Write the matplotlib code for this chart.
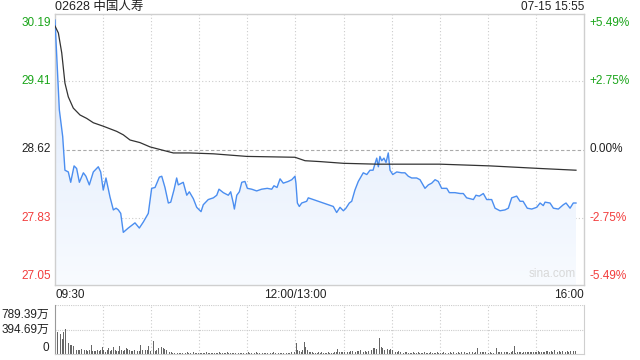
import numpy as np
import matplotlib.pyplot as plt
from matplotlib.colors import LinearSegmentedColormap
from matplotlib.transforms import blended_transform_factory

plt.rcParams['font.family'] = ['Liberation Sans', 'Noto Sans CJK SC', 'DejaVu Sans']

TITLE = "02628 中国人寿"
STAMP = "07-15 15:55"
PREV_CLOSE = 28.62
PRICE_TICKS = [30.19, 29.41, 28.62, 27.83, 27.05]
PCT_TICKS = ["+5.49%", "+2.75%", "0.00%", "-2.75%", "-5.49%"]
TIME_LABELS = ["09:30", "12:00/13:00", "16:00"]
VOL_TICKS = [789.39, 394.69, 0]
VOL_LABELS = ["789.39万", "394.69万", "0"]

# minutes from 09:30 (lunch break removed, 330 trading minutes)
price_t = [0, 2.7, 4.8, 6.2, 8.3, 9.8, 11.9, 13.5, 15.2, 17.7, 19.3, 21.4, 23.9, 27.0,
           28.5, 30.1, 31.8, 34.3, 36.4, 38.1, 39.5, 41.0, 42.6, 45.7, 49.9, 52.6, 55.1,
           58.2, 60.3, 62.4, 65.1, 66.6, 68.6, 70.7, 72.2, 74.2, 75.9, 76.9, 80.0, 82.2,
           83.8, 86.3, 88.4, 91.1, 92.5, 95.6, 98.8, 100.9, 102.3, 105.0, 108.1, 109.6,
           111.2, 111.9, 113.4, 115.0, 116.5, 118.5, 120.0, 122.7, 125.8, 128.9, 132.4,
           135.2, 136.6, 138.5, 140.4, 142.4, 145.5, 147.7, 149.7, 150.3, 151.2, 152.4,
           153.9, 157.0, 158.0, 161.1, 164.3, 167.4, 170.5, 173.6, 175.7, 177.8, 179.9,
           181.5, 183.6, 185.1, 187.1, 189.2, 192.3, 194.5, 196.5, 198.4, 200.7, 201.7,
           202.7, 203.8, 205.2, 206.5, 207.9, 209.0, 210.7, 213.2, 216.3, 218.3, 220.4,
           222.5, 225.6, 227.7, 230.8, 232.9, 235.0, 237.1, 239.1, 241.2, 244.4, 246.0,
           249.5, 252.7, 254.7, 256.8, 261.0, 262.6, 264.7, 267.2, 269.3, 272.4, 274.5,
           277.6, 280.7, 282.8, 284.9, 288.0, 290.1, 292.0, 294.6, 297.4, 300.5, 302.6,
           304.6, 305.7, 308.8, 310.9, 314.0, 317.1, 318.8, 321.3, 323.3, 325.0]
price = [30.12, 29.08, 28.77, 28.38, 28.36, 28.24, 28.43, 28.40, 28.24, 28.35, 28.31, 28.21,
         28.36, 28.42, 28.36, 28.15, 28.29, 28.07, 27.92, 27.94, 27.92, 27.88, 27.66, 27.71,
         27.77, 27.71, 27.78, 27.88, 28.17, 28.18, 28.30, 28.31, 28.18, 28.00, 28.01, 28.15,
         28.29, 28.21, 28.24, 28.09, 28.13, 28.05, 27.95, 27.90, 27.98, 28.04, 28.06, 28.09,
         28.16, 28.12, 28.09, 28.13, 28.00, 27.93, 28.09, 28.13, 28.24, 28.25, 28.17, 28.16,
         28.14, 28.16, 28.17, 28.16, 28.20, 28.18, 28.28, 28.23, 28.25, 28.27, 28.31, 28.23,
         28.00, 27.96, 28.00, 28.02, 28.06, 28.04, 28.02, 28.00, 27.98, 27.96, 27.89, 27.95,
         27.91, 27.94, 28.00, 28.02, 28.15, 28.25, 28.35, 28.33, 28.38, 28.38, 28.52, 28.42,
         28.54, 28.49, 28.52, 28.47, 28.58, 28.38, 28.33, 28.36, 28.35, 28.35, 28.31, 28.29,
         28.29, 28.27, 28.17, 28.21, 28.23, 28.27, 28.25, 28.17, 28.17, 28.12, 28.12, 28.11,
         28.11, 28.06, 28.04, 28.09, 28.08, 28.11, 28.04, 28.04, 27.94, 27.91, 27.92, 27.94,
         28.06, 28.08, 28.02, 28.02, 27.94, 27.93, 27.95, 28.00, 27.97, 28.01, 28.00, 27.94,
         27.93, 27.98, 28.00, 27.94, 28.00, 28.00]

avg_t = [0, 2.1, 4.2, 6.2, 8.3, 11.4, 15.6, 19.8, 23.9, 30.1, 38.5, 42.6, 46.8, 53.0, 59.3,
         65.5, 73.8, 84.2, 98.8, 119.6, 149.7, 156.0, 165.3, 179.9, 200.7, 240.2, 271.4,
         302.6, 325.0]
avg_p = [30.05, 29.97, 29.74, 29.39, 29.23, 29.10, 29.02, 28.98, 28.93, 28.89, 28.83, 28.79,
         28.73, 28.70, 28.65, 28.62, 28.58, 28.58, 28.57, 28.54, 28.53, 28.49, 28.48, 28.46,
         28.45, 28.45, 28.43, 28.40, 28.38]

# volume per minute, 万股
volume = [789, 352, 290, 318, 245, 356, 398, 268, 176, 150, 148, 132, 120, 72, 58, 64, 88, 140, 62, 70, 45, 60, 138, 55, 48,
          52, 60, 44, 66, 118, 58, 40, 72, 96, 50, 62, 110, 66, 54, 48, 128, 60, 44, 58, 92, 80, 70, 50, 46, 60,
          90, 54, 48, 150, 70, 66, 62, 58, 130, 52, 88, 215, 48, 70, 96, 112, 120, 90, 76, 60, 52, 40, 30, 22, 18,
          20, 14, 24, 18, 12, 22, 16, 30, 20, 14, 18, 26, 12, 20, 16, 24, 18, 14, 22, 28, 16, 12, 20, 18, 24,
          14, 22, 30, 18, 16, 12, 20, 26, 18, 14, 22, 16, 12, 28, 20, 18, 24, 14, 20, 16, 30, 22, 18, 14, 20,
          26, 16, 12, 22, 18, 24, 14, 20, 18, 16, 22, 28, 14, 12, 20, 18, 24, 16, 22, 14, 20, 18, 26, 30, 40,
          170, 70, 45, 30, 60, 190, 120, 60, 40, 30, 28, 20, 24, 18, 26, 22, 30, 18, 20, 24, 28, 16, 22, 20, 30,
          40, 80, 36, 30, 28, 40, 34, 26, 30, 48, 44, 40, 38, 52, 46, 60, 50, 40, 44, 36, 48, 58, 70, 90, 100,
          80, 120, 260, 110, 90, 70, 100, 80, 60, 76, 64, 50, 40, 36, 44, 30, 26, 22, 30, 28, 20, 24, 18, 26, 22,
          20, 28, 24, 18, 22, 30, 20, 16, 24, 28, 22, 18, 20, 26, 24, 16, 22, 30, 24, 20, 18, 26, 22, 28, 20,
          24, 30, 22, 26, 20, 28, 18, 24, 34, 40, 28, 22, 30, 100, 44, 30, 26, 38, 28, 150, 22, 30, 24, 20, 26,
          100, 36, 30, 26, 22, 40, 28, 34, 24, 30, 44, 130, 22, 30, 28, 36, 24, 40, 30, 26, 34, 28, 32, 40, 36,
          30, 44, 38, 34, 40, 36, 50, 42, 34, 46, 38, 60, 44, 40, 52, 34, 46, 56, 40, 48, 38, 50, 60, 44, 52]

GREEN = "#1aa51a"
RED = "#f23c3c"
GRID = "#cccccc"
BORDER = "#cfcfcf"

fig = plt.figure(figsize=(6.4, 3.6), dpi=100)
ax = fig.add_axes([55 / 640, 1 - 285 / 360, 529 / 640, 271 / 360])
axv = fig.add_axes([55 / 640, 1 - 354 / 360, 529 / 640, 49 / 360])

ymin, ymax = PRICE_TICKS[-1], PRICE_TICKS[0]
ax.set_xlim(0, 330)
ax.set_ylim(ymin, ymax)

# grid
for x in range(30, 330, 30):
    ax.axvline(x, color=GRID, lw=0.8, ls=(0, (1, 2)), zorder=0)
    axv.axvline(x, color=GRID, lw=0.8, ls=(0, (1, 2)), zorder=0)
for yv in PRICE_TICKS[1:-1]:
    if yv == PREV_CLOSE:
        ax.axhline(yv, color="#aaaaaa", lw=0.8, ls=(0, (3, 2)), zorder=0)
    else:
        ax.axhline(yv, color=GRID, lw=0.8, ls=(0, (1, 2)), zorder=0)

# gradient fill under price line
poly = ax.fill_between(price_t, price, ymin, color="none", lw=0)
grad = np.linspace(1, 0, 256).reshape(-1, 1)
cmap = LinearSegmentedColormap.from_list("g", ["#f8fbff", "#dbe7fb"])
im = ax.imshow(grad, extent=[0, 330, ymin, ymax], aspect="auto", cmap=cmap,
               origin="upper", zorder=1)
im.set_clip_path(poly.get_paths()[0], transform=ax.transData)

ax.plot(price_t, price, color="#4b8ef0", lw=1.0, zorder=3)
ax.plot(avg_t, avg_p, color="#333333", lw=0.9, zorder=3)

for s in ax.spines.values():
    s.set_color(BORDER)
    s.set_linewidth(1)
ax.set_xticks([])
ax.set_yticks([])

# left price labels / right percent labels
trl = blended_transform_factory(ax.transAxes, ax.transData)
for i, (pv, pl) in enumerate(zip(PRICE_TICKS, PCT_TICKS)):
    c = GREEN if pv > PREV_CLOSE else (RED if pv < PREV_CLOSE else "#222222")
    va = "top" if i == 0 else ("bottom" if i == len(PRICE_TICKS) - 1 else "center")
    off = -2 if i == 0 else (2 if i == len(PRICE_TICKS) - 1 else 0)
    ax.annotate(f"{pv:.2f}", (0, pv), xycoords=trl, xytext=(-3, off),
                textcoords="offset points", ha="right", va=va, color=c, fontsize=8.5)
    ax.annotate(pl, (1, pv), xycoords=trl, xytext=(4, off),
                textcoords="offset points", ha="left", va=va, color=c, fontsize=8.5)

# time labels
ax.text(0, -0.015, TIME_LABELS[0], transform=ax.transAxes, ha="left", va="top",
        fontsize=8.5, color="#222222")
ax.text(150 / 330, -0.015, TIME_LABELS[1], transform=ax.transAxes, ha="center",
        va="top", fontsize=8.5, color="#222222")
ax.text(1, -0.015, TIME_LABELS[2], transform=ax.transAxes, ha="right", va="top",
        fontsize=8.5, color="#222222")

# title and stamp
ax.text(0, 1.002, TITLE, transform=ax.transAxes, ha="left", va="bottom",
        fontsize=9, color="#222222")
ax.text(1, 1.002, STAMP, transform=ax.transAxes, ha="right", va="bottom",
        fontsize=8.5, color="#222222")
ax.text(0.985, 0.02, "sina.com", transform=ax.transAxes, ha="right", va="bottom",
        fontsize=8.5, color="#d8d8d8")

# volume panel
vt = np.arange(len(volume)) + 0.5
axv.bar(vt, volume, width=0.55, color="#666666", zorder=2)
axv.set_xlim(0, 330)
axv.set_ylim(0, VOL_TICKS[0])
axv.axhline(VOL_TICKS[0] * 0.995, color=GRID, lw=0.8, ls=(0, (1, 1)), zorder=0)
axv.axhline(VOL_TICKS[1], color=GRID, lw=0.8, ls=(0, (1, 1)), zorder=0)
axv.set_xticks([])
axv.set_yticks([])
axv.spines["top"].set_visible(False)
for k in ["left", "right", "bottom"]:
    axv.spines[k].set_color(BORDER)
axv.spines["left"].set_color("#999999")
trv = blended_transform_factory(axv.transAxes, axv.transData)
for i, (vv, vl) in enumerate(zip(VOL_TICKS, VOL_LABELS)):
    va = "top" if i == 0 else ("bottom" if i == len(VOL_TICKS) - 1 else "center")
    off = -3 if i == 0 else 0
    axv.annotate(vl, (0, vv), xycoords=trv, xytext=(-4, off), textcoords="offset points",
                 ha="right", va=va, fontsize=8.5, color="#222222")

fig.savefig("out.png", dpi=100)
